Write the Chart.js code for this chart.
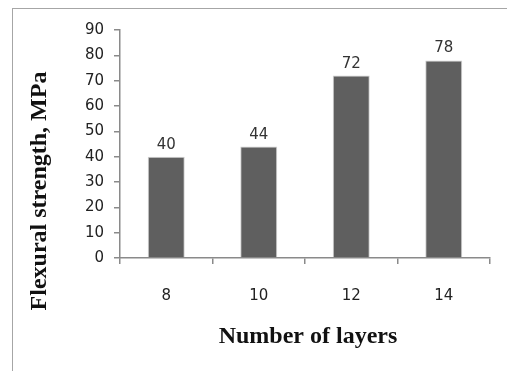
<!DOCTYPE html>
<html><head><meta charset="utf-8">
<style>
html,body{margin:0;padding:0;background:#fff;}
#wrap{position:relative;width:507px;height:371px;overflow:hidden;}
#frame{position:absolute;left:12px;top:8px;width:600px;height:400px;border-left:1px solid #a6a6a6;border-top:1px solid #a6a6a6;}
canvas{position:absolute;left:0;top:0;}
</style>
<script src="https://cdn.jsdelivr.net/npm/chart.js@4/dist/chart.umd.min.js"></script>
</head><body>
<div id="wrap"><div id="frame"></div><canvas id="c" width="507" height="371"></canvas></div>
<script>
const categories = ["8", "10", "12", "14"];
const strength = [40, 44, 72, 78];
const yTitle = "Flexural strength, MPa";
const xTitle = "Number of layers";

const tickFont = {family: "DejaVu Sans", size: 15};

const labelPlugin = {
  id: 'labels',
  afterDatasetsDraw(chart) {
    const ctx = chart.ctx;
    const meta = chart.getDatasetMeta(0);
    ctx.save();
    ctx.font = "15px 'DejaVu Sans'";
    ctx.fillStyle = "#333";
    ctx.textAlign = "center";
    ctx.textBaseline = "alphabetic";
    meta.data.forEach((bar, i) => {
      ctx.fillText(String(strength[i]), bar.x, bar.y - 8);
    });
    ctx.restore();
  }
};

const titlePlugin = {
  id: 'titles',
  afterDraw(chart) {
    const ctx = chart.ctx;
    const a = chart.chartArea;
    ctx.save();
    ctx.font = "bold 24px 'Liberation Serif'";
    ctx.fillStyle = "#111";
    ctx.textAlign = "center";
    ctx.textBaseline = "middle";
    ctx.fillText(xTitle, (a.left + a.right) / 2 + 3, 337);
    ctx.translate(40, 191);
    ctx.rotate(-Math.PI / 2);
    ctx.fillText(yTitle, 0, 0);
    ctx.restore();
  }
};

new Chart(document.getElementById('c'), {
  type: 'bar',
  data: {
    labels: categories,
    datasets: [{
      data: strength,
      backgroundColor: '#5f5f5f',
      borderColor: '#d0d0d0',
      borderWidth: 1,
      categoryPercentage: 1,
      barPercentage: 0.4
    }]
  },
  options: {
    responsive: false,
    animation: false,
    devicePixelRatio: 1,
    layout: {padding: {top: 30, right: 17, left: 0, bottom: 0}},
    plugins: {legend: {display: false}, tooltip: {enabled: false}},
    scales: {
      x: {
        grid: {offset: true, drawOnChartArea: false, color: '#8a8a8a', tickLength: 6, lineWidth: 1.5},
        border: {color: '#8a8a8a', width: 1.5},
        ticks: {font: tickFont, color: '#222', padding: 23},
        afterFit(s) { s.height = 371 - 258; }
      },
      y: {
        min: 0, max: 90,
        ticks: {stepSize: 10, font: tickFont, color: '#222', padding: 10},
        grid: {drawOnChartArea: false, color: '#8a8a8a', tickLength: 6, lineWidth: 1.5},
        border: {color: '#8a8a8a', width: 1.5},
        afterFit(s) { s.width = 120; }
      }
    }
  },
  plugins: [labelPlugin, titlePlugin]
});
</script>
</body></html>
